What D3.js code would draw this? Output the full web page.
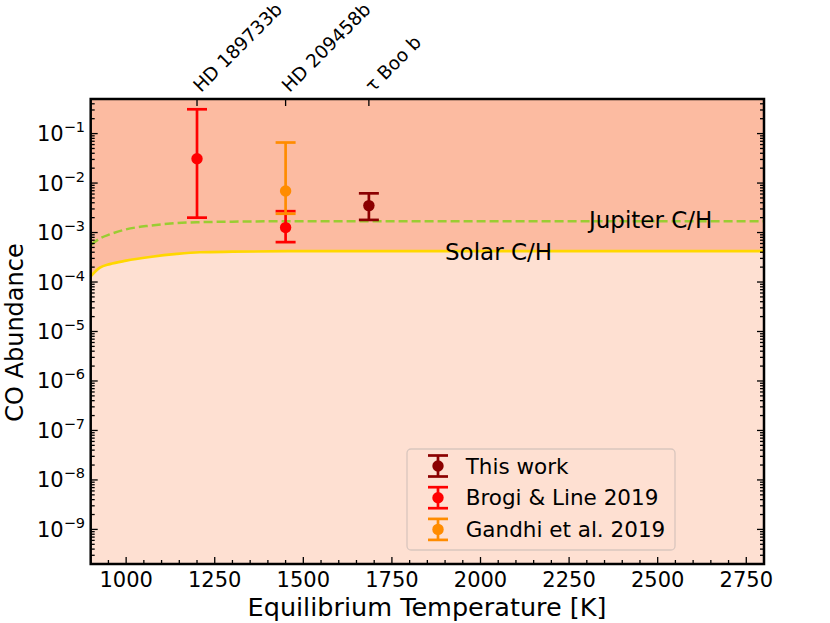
<!DOCTYPE html>
<html>
<head>
<meta charset="utf-8">
<script src="https://cdn.jsdelivr.net/npm/d3@7"></script>
<style>
  body { margin: 0; background: #fff; }
  svg text { font-family: "DejaVu Sans", sans-serif; fill: #000; }
</style>
</head>
<body>
<svg id="chart" width="830" height="623"></svg>
<script>
// solar and jupiter C/H curves
const solarT = [900, 926, 954, 1000, 1067, 1143, 1208, 1300, 1491, 2000, 2800];
const solarCO = [1.3e-4, 1.95e-4, 2.3e-4, 2.7e-4, 3.2e-4, 3.7e-4, 4.0e-4, 4.1e-4, 4.2e-4, 4.2e-4, 4.2e-4];
const jupiterT = [900, 926, 954, 1000, 1067, 1143, 1208, 1300, 1491, 2000, 2800];
const jupiterCO = [5.6e-4, 7.6e-4, 9.2e-4, 1.16e-3, 1.38e-3, 1.55e-3, 1.62e-3, 1.66e-3, 1.7e-3, 1.7e-3, 1.7e-3];

// planets on the top axis
const planetNames = ["HD 189733b", "HD 209458b", "\u03c4 Boo b"];
const planetT = [1200, 1450, 1685];

// measurements: value, lower, upper
const seriesNames = ["This work", "Brogi & Line 2019", "Gandhi et al. 2019"];
const seriesColors = ["#8b0000", "#ff0000", "#ff8c00"];
const thisWork = [{ t: 1685, v: 3.5e-3, lo: 1.8e-3, hi: 6.2e-3 }];
const brogi = [
  { t: 1200, v: 3.1e-2, lo: 2.0e-3, hi: 3.1e-1 },
  { t: 1450, v: 1.26e-3, lo: 6.4e-4, hi: 2.7e-3 },
];
const gandhi = [{ t: 1450, v: 6.9e-3, lo: 2.4e-3, hi: 6.6e-2 }];

const xTicks = [1000, 1250, 1500, 1750, 2000, 2250, 2500, 2750];
const yExponents = [-9, -8, -7, -6, -5, -4, -3, -2, -1];

const svg = d3.select("#chart");
const mLeft = 90.7, mRight = 764, mTop = 99, mBottom = 564;

const x = d3.scaleLinear().domain([900, 2800]).range([mLeft, mRight]);
const y = d3.scaleLog().domain([2e-10, 0.5]).range([mBottom, mTop]);

// background bands
svg.append("rect")
  .attr("x", mLeft).attr("y", mTop)
  .attr("width", mRight - mLeft).attr("height", mBottom - mTop)
  .attr("fill", "#fee0d2");

const solarPts = solarT.map((t, i) => [t, solarCO[i]]);
const jupPts = jupiterT.map((t, i) => [t, jupiterCO[i]]);

svg.append("path")
  .datum(solarPts)
  .attr("fill", "#fcbba1")
  .attr("d", d3.area().x((d) => x(d[0])).y0(mTop).y1((d) => y(d[1])).curve(d3.curveMonotoneX));

svg.append("path")
  .datum(jupPts)
  .attr("fill", "none")
  .attr("stroke", "#9acd32")
  .attr("stroke-width", 2.5)
  .attr("stroke-dasharray", "9,4")
  .attr("d", d3.line().x((d) => x(d[0])).y((d) => y(d[1])).curve(d3.curveMonotoneX));

svg.append("path")
  .datum(solarPts)
  .attr("fill", "none")
  .attr("stroke", "#ffd700")
  .attr("stroke-width", 2.7)
  .attr("d", d3.line().x((d) => x(d[0])).y((d) => y(d[1])).curve(d3.curveMonotoneX));

svg.append("text").attr("x", 589).attr("y", 228).attr("font-size", 23).text("Jupiter C/H");
svg.append("text").attr("x", 445).attr("y", 259.5).attr("font-size", 23).text("Solar C/H");

// error bars
function drawErr(g, data, color) {
  data.forEach((d) => {
    const cx = x(d.t);
    g.append("line").attr("x1", cx).attr("x2", cx)
      .attr("y1", y(d.lo)).attr("y2", y(d.hi))
      .attr("stroke", color).attr("stroke-width", 2.7);
    [d.lo, d.hi].forEach((c) => {
      g.append("line").attr("x1", cx - 10).attr("x2", cx + 10)
        .attr("y1", y(c)).attr("y2", y(c))
        .attr("stroke", color).attr("stroke-width", 2.7);
    });
    g.append("circle").attr("cx", cx).attr("cy", y(d.v)).attr("r", 5.7).attr("fill", color);
  });
}
const marks = svg.append("g");
drawErr(marks, brogi, seriesColors[1]);
drawErr(marks, gandhi, seriesColors[2]);
drawErr(marks, thisWork, seriesColors[0]);

// ticks (all inward)
const tickG = svg.append("g").attr("stroke", "#000").attr("stroke-width", 1.3);
const xMinor = d3.range(900, 2801, 50);
xMinor.forEach((t) => {
  const len = xTicks.includes(t) ? 7 : 4;
  tickG.append("line").attr("x1", x(t)).attr("x2", x(t)).attr("y1", mBottom).attr("y2", mBottom - len);
});
const yMinor = [];
for (let e = -10; e <= -1; e++) {
  for (let m = 1; m < 10; m++) {
    const v = m * Math.pow(10, e);
    if (v >= 2e-10 && v <= 0.5) yMinor.push({ v, major: m === 1 });
  }
}
yMinor.forEach((d) => {
  const len = d.major ? 7 : 4;
  tickG.append("line").attr("x1", mLeft).attr("x2", mLeft + len).attr("y1", y(d.v)).attr("y2", y(d.v));
  tickG.append("line").attr("x1", mRight).attr("x2", mRight - len).attr("y1", y(d.v)).attr("y2", y(d.v));
});
planetT.forEach((t) => {
  tickG.append("line").attr("x1", x(t)).attr("x2", x(t)).attr("y1", mTop).attr("y2", mTop + 7);
});

// spines
svg.append("rect")
  .attr("x", mLeft).attr("y", mTop)
  .attr("width", mRight - mLeft).attr("height", mBottom - mTop)
  .attr("fill", "none").attr("stroke", "#000").attr("stroke-width", 2.5);

// tick labels
xTicks.forEach((t) => {
  svg.append("text").attr("x", x(t)).attr("y", 587)
    .attr("text-anchor", "middle").attr("font-size", 21).text(t);
});
yExponents.forEach((e) => {
  const t = svg.append("text").attr("x", 85).attr("y", y(Math.pow(10, e)) + 7.5)
    .attr("text-anchor", "end").attr("font-size", 21);
  t.append("tspan").text("10");
  t.append("tspan").attr("font-size", 14.5).attr("dy", -9).text("\u2212" + Math.abs(e));
});
planetNames.forEach((n, i) => {
  svg.append("text")
    .attr("transform", `translate(${x(planetT[i]) + 4},93) rotate(-45)`)
    .attr("font-size", 18.5).text(n);
});

// axis labels
svg.append("text").attr("x", 427).attr("y", 616)
  .attr("text-anchor", "middle").attr("font-size", 25.5).text("Equilibrium Temperature [K]");
svg.append("text").attr("transform", "translate(23,332.5) rotate(-90)")
  .attr("text-anchor", "middle").attr("font-size", 24).text("CO Abundance");

// legend
const leg = svg.append("g");
leg.append("rect").attr("x", 407).attr("y", 449).attr("width", 268).attr("height", 101)
  .attr("rx", 4).attr("fill", "none").attr("stroke", "#d9c6be").attr("stroke-width", 1.3);
seriesNames.forEach((n, i) => {
  const cy = 466 + i * 31.7;
  const c = seriesColors[i];
  leg.append("line").attr("x1", 438).attr("x2", 438).attr("y1", cy - 10.5).attr("y2", cy + 10.5)
    .attr("stroke", c).attr("stroke-width", 2.7);
  [-10.5, 10.5].forEach((o) => {
    leg.append("line").attr("x1", 428).attr("x2", 448).attr("y1", cy + o).attr("y2", cy + o)
      .attr("stroke", c).attr("stroke-width", 2.7);
  });
  leg.append("circle").attr("cx", 438).attr("cy", cy).attr("r", 5.7).attr("fill", c);
  leg.append("text").attr("x", 465.7).attr("y", cy + 7.5).attr("font-size", 21.5).text(n);
});
</script>
</body>
</html>
